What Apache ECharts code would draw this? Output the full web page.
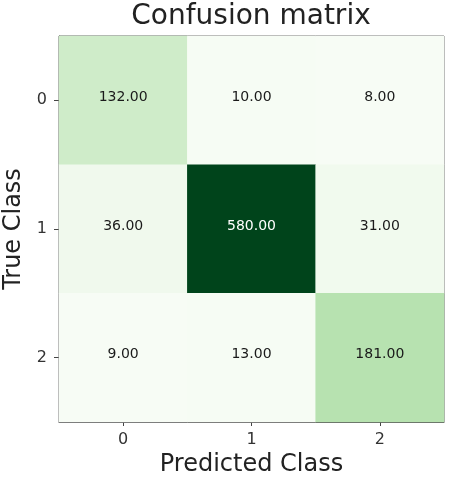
<!DOCTYPE html>
<html>
<head>
<meta charset="utf-8">
<script src="https://cdn.jsdelivr.net/npm/echarts@6/dist/echarts.min.js"></script>
<style>
  html, body { margin: 0; padding: 0; background: #fff; }
  #confusionChart { width: 450px; height: 480px; }
</style>
</head>
<body>
<div id="confusionChart"></div>
<script>
// labels of the classes
var predictedClasses = ['0', '1', '2'];
var trueClasses = ['0', '1', '2'];
// rows = true class, columns = predicted class
var row0 = [132, 10, 8];
var row1 = [36, 580, 31];
var row2 = [9, 13, 181];
var matrixRows = [row0, row1, row2];

var cells = [];
matrixRows.forEach(function (row, r) {
  row.forEach(function (v, c) {
    cells.push([c, r, v]);
  });
});
var allValues = row0.concat(row1, row2);
var vMin = Math.min.apply(null, allValues);
var vMax = Math.max.apply(null, allValues);
var thresh = vMax / 2;

var font = 'DejaVu Sans';

var option = {
  animation: false,
  textStyle: { fontFamily: font },
  title: {
    text: 'Confusion matrix',
    left: 251,
    textAlign: 'center',
    top: 3,
    padding: 0,
    textStyle: { fontFamily: font, fontSize: 28, fontWeight: 'normal', color: '#222' }
  },
  grid: {
    left: 59,
    top: 36,
    width: 385,
    height: 386,
    outerBoundsMode: 'none',
    containLabel: false,
    show: true,
    borderColor: '#555',
    borderWidth: 1,
    backgroundColor: 'transparent'
  },
  xAxis: {
    type: 'category',
    data: predictedClasses,
    name: 'Predicted Class',
    nameLocation: 'middle',
    nameGap: 31,
    nameTextStyle: { fontSize: 24, color: '#222' },
    axisLine: { lineStyle: { color: '#555' } },
    axisTick: { show: true, alignWithLabel: true, length: 4, lineStyle: { color: '#444' } },
    axisLabel: { fontSize: 16, color: '#333', margin: 10 },
    splitArea: { show: false }
  },
  yAxis: {
    type: 'category',
    data: trueClasses,
    inverse: true,
    name: 'True Class',
    nameLocation: 'middle',
    nameGap: 30,
    nameTextStyle: { fontSize: 24, color: '#222' },
    axisLine: { lineStyle: { color: '#555' } },
    axisTick: { show: true, alignWithLabel: true, length: 5, lineStyle: { color: '#444' } },
    axisLabel: { fontSize: 16, color: '#333', margin: 12 },
    splitArea: { show: false }
  },
  visualMap: {
    show: false,
    min: vMin,
    max: vMax,
    calculable: false,
    inRange: {
      color: ['#f7fcf5', '#e5f5e0', '#c7e9c0', '#a1d99b', '#74c476', '#41ab5d', '#238b45', '#006d2c', '#00441b']
    }
  },
  series: [
    {
      type: 'heatmap',
      label: {
        show: true,
        fontSize: 14,
        offset: [0, -3],
        formatter: function (p) {
          return p.value[2].toFixed(2);
        }
      },
      emphasis: { disabled: true },
      // white text on dark cells, as in the original plot
      data: cells.map(function (d) {
        return {
          value: d,
          label: { color: d[2] > thresh ? '#fff' : '#1a1a1a' }
        };
      })
    }
  ]
};

var chart = echarts.init(document.getElementById('confusionChart'));
chart.setOption(option);
</script>
</body>
</html>
